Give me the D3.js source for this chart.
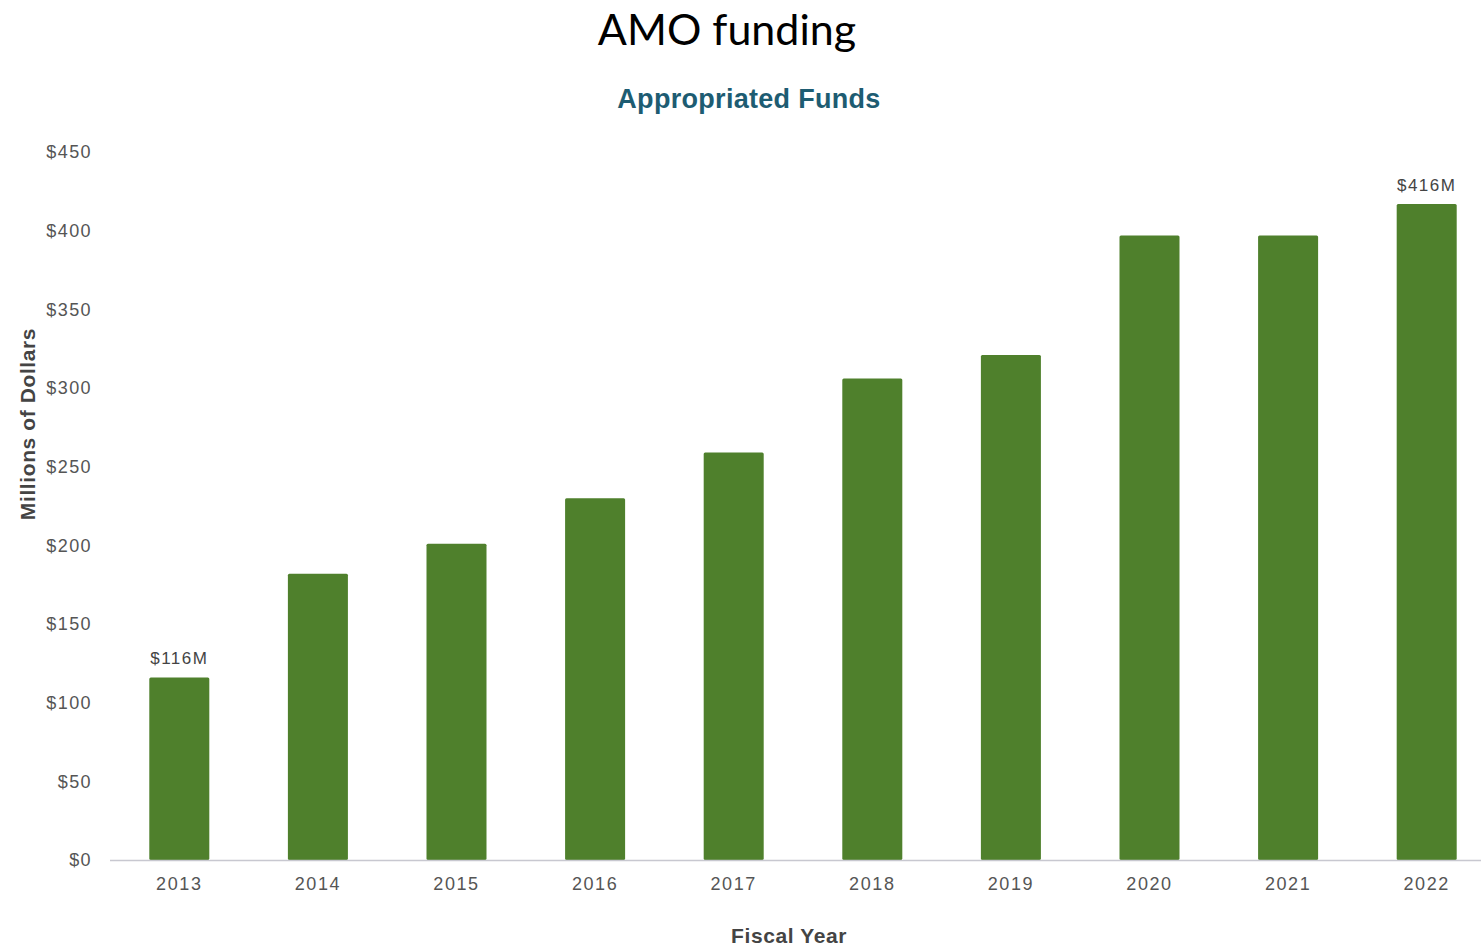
<!DOCTYPE html>
<html><head><meta charset="utf-8">
<script src="https://cdn.jsdelivr.net/npm/d3@7/dist/d3.min.js"></script>
<style>html,body{margin:0;padding:0;background:#fff;}</style>
</head><body>
<svg id="c" width="1481" height="946"></svg>
<script>
const years = ["2013","2014","2015","2016","2017","2018","2019","2020","2021","2022"];
const funds = [116, 182, 201, 230, 259, 306, 321, 397, 397, 417];
const yTicks = [0, 50, 100, 150, 200, 250, 300, 350, 400, 450];
const labeled = {"2013": "$116M", "2022": "$416M"};

const svg = d3.select("#c");
const x = d3.scaleBand().domain(years).range([110, 1496]).paddingInner(0.567).paddingOuter(0.2835);
const y = d3.scaleLinear().domain([0, 450]).range([860, 152]);
const bodyFont = "'Liberation Sans', Arial, sans-serif";

svg.append("text").attr("x", 727).attr("y", 45).attr("text-anchor", "middle")
  .attr("font-family", "Lato, 'Open Sans', sans-serif").attr("font-size", 43).attr("fill", "#000")
  .text("AMO funding");
svg.append("text").attr("x", 749).attr("y", 108).attr("text-anchor", "middle")
  .attr("font-family", bodyFont).attr("font-weight", "bold")
  .attr("font-size", 27).attr("fill", "#1d5c72").attr("letter-spacing", 0.3)
  .text("Appropriated Funds");

// y axis labels
const yAxis = d3.axisLeft(y).tickValues(yTicks).tickSize(0).tickPadding(0).tickFormat(d => "$" + d);
const ya = svg.append("g").attr("transform", "translate(92,0)").call(yAxis);
ya.select(".domain").remove();
ya.selectAll("text").attr("font-family", bodyFont).attr("font-size", 18).attr("letter-spacing", 1.4).attr("fill", "#555");

// bars
svg.append("g").selectAll("rect").data(years).join("rect")
  .attr("x", d => x(d)).attr("width", x.bandwidth())
  .attr("y", (d, i) => y(funds[i])).attr("height", (d, i) => y(0) - y(funds[i]))
  .attr("rx", 1.5)
  .attr("fill", "#4f802c");

// baseline
svg.append("line").attr("x1", 110).attr("x2", 1481).attr("y1", 860.5).attr("y2", 860.5)
  .attr("stroke", "#c8c8d0").attr("stroke-width", 1.5);

// x axis labels
const xAxis = d3.axisBottom(x).tickSize(0).tickPadding(0);
const xa = svg.append("g").attr("transform", "translate(0,877)").call(xAxis);
xa.select(".domain").remove();
xa.selectAll("text").attr("font-family", bodyFont).attr("font-size", 18).attr("letter-spacing", 1.6).attr("fill", "#555");

// value labels
svg.append("g").selectAll("text").data(years.filter(d => labeled[d])).join("text")
  .attr("x", d => x(d) + x.bandwidth() / 2)
  .attr("y", d => y(funds[years.indexOf(d)]) - 13)
  .attr("text-anchor", "middle")
  .attr("font-family", bodyFont).attr("font-size", 17).attr("letter-spacing", 1.5).attr("fill", "#444")
  .text(d => labeled[d]);

// axis titles
svg.append("text").attr("transform", "translate(35,424) rotate(-90)").attr("text-anchor", "middle")
  .attr("font-family", bodyFont).attr("font-weight", "bold")
  .attr("font-size", 21).attr("fill", "#444").attr("letter-spacing", 0.6)
  .text("Millions of Dollars");
svg.append("text").attr("x", 789).attr("y", 943).attr("text-anchor", "middle")
  .attr("font-family", bodyFont).attr("font-weight", "bold")
  .attr("font-size", 21).attr("fill", "#444").attr("letter-spacing", 0.6)
  .text("Fiscal Year");
</script>
</body></html>
